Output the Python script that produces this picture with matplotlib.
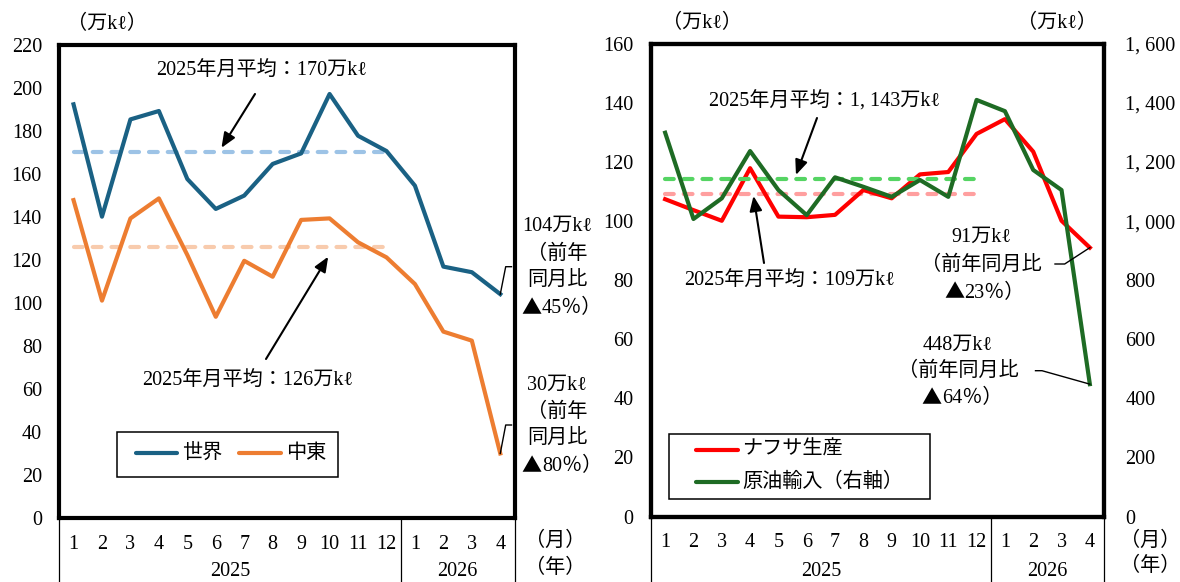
import numpy as np
import matplotlib
matplotlib.use("Agg")
import matplotlib.pyplot as plt
from matplotlib.lines import Line2D
from matplotlib.patches import Rectangle
from matplotlib.transforms import blended_transform_factory

plt.rcParams['font.family'] = ['Liberation Serif', 'Noto Sans CJK JP']
CJK = ['Noto Sans CJK JP', 'DejaVu Sans']

# ---- data ----
months = ['1', '2', '3', '4', '5', '6', '7', '8', '9', '10', '11', '12', '1', '2', '3', '4']
years = ['2025', '2026']
year_spans = [(0, 11), (12, 15)]

world = [192.2, 140.0, 185.2, 189.1, 157.5, 143.6, 149.8, 164.5, 169.4, 197.0,
         177.6, 170.5, 154.4, 116.8, 114.2, 104]
mideast = [147.7, 101.0, 139.2, 148.5, 122.2, 93.5, 119.5, 112.1, 138.5, 139.2,
           128.1, 121.1, 108.7, 86.6, 82.4, 30]
world_avg = 170
mideast_avg = 126
world_yoy = 45
mideast_yoy = 80

naphtha = [107.4, 103.7, 100.1, 117.9, 101.5, 101.3, 102.1, 110.5, 107.7, 115.8,
           116.6, 129.5, 134.5, 123.5, 100.1, 91]
crude = [1299, 1007, 1077, 1237, 1105, 1020, 1148, 1116, 1082, 1139,
         1082, 1410, 1372, 1173, 1105, 448]
naphtha_avg = 109
crude_avg = 1143
naphtha_yoy = 23
crude_yoy = 64

# ---- styling ----
BLUE = '#1A6184'
ORANGE = '#ED7D31'
LBLUE = '#9DC3E6'
LORANGE = '#F8CBAD'
RED = '#FF0000'
GREEN = '#1E6B24'
LGREEN = '#55D463'
LRED = '#FF9F9F'
FS = 14.5
SERIES_LW = 3.0
DASH = (0, (2.1, 2.4))

W, H, DPI = 1180, 582, 100
fig = plt.figure(figsize=(W / DPI, H / DPI), dpi=DPI)


def fx(x):
    return x / W


def fy(y):
    return 1 - y / H


def add_axes(x0, x1, top, bot):
    return fig.add_axes([fx(x0), fy(bot), (x1 - x0) / W, (bot - top) / H])


def ftext(x, y, s, **kw):
    kw.setdefault('fontsize', FS)
    kw.setdefault('ha', 'center')
    kw.setdefault('va', 'center')
    fig.text(fx(x), fy(y), s, **kw)


def to_fig(ax, x, y):
    disp = ax.transData.transform((x, y))
    return fig.transFigure.inverted().transform(disp)


def style_axes(ax):
    for sp in ax.spines.values():
        sp.set_linewidth(3)
        sp.set_color('black')
    ax.set_xlim(-0.5, len(months) - 0.5)
    ax.set_xticks(np.arange(len(months)), months)
    ax.tick_params(axis='x', length=0, pad=12, labelsize=FS)
    ax.tick_params(axis='y', length=0, labelsize=FS)


def bottom_axis(ax, year_y, unit_x, month_y, unit_year_y):
    trans = blended_transform_factory(ax.transData, fig.transFigure)
    bot = ax.get_position().y0
    for xb in (-0.5, 11.5, len(months) - 0.5):
        fig.add_artist(Line2D([xb, xb], [bot, 0], transform=trans,
                              color='black', lw=0.9))
    for label, (a, b) in zip(years, year_spans):
        fig.text((a + b) / 2, fy(year_y), label, transform=trans,
                 ha='center', va='center', fontsize=FS)
    ftext(unit_x, month_y, '（月）')
    ftext(unit_x, unit_year_y, '（年）')


def connector(ax, x, y, pts):
    p0 = to_fig(ax, x, y)
    xs = [p0[0]] + [fx(p[0]) for p in pts]
    ys = [p0[1]] + [fy(p[1]) for p in pts]
    fig.add_artist(Line2D(xs, ys, transform=fig.transFigure, color='black', lw=1.0))


def arrow(ax, tip, tail):
    ax.annotate('', xy=tip, xycoords='data',
                xytext=(fx(tail[0]), fy(tail[1])), textcoords='figure fraction',
                arrowprops=dict(arrowstyle='-|>,head_length=0.6,head_width=0.25',
                                color='black', lw=1.5, shrinkA=0, shrinkB=0,
                                mutation_scale=15))


def lines_text(x, y0, step, lines):
    for i, s in enumerate(lines):
        ftext(x, y0 + i * step, s)


def yoy_text(x_split, y, pct):
    # full-width triangle followed by the percentage
    ftext(x_split, y, '▲', ha='right', family=CJK)
    ftext(x_split, y, f'{pct}％）', ha='left')


x = np.arange(len(months))
x25 = x[:12]

# ---- left panel: crude oil imports, world vs. Middle East ----
ax1 = add_axes(59.3, 514.5, 44.5, 518)
style_axes(ax1)
ax1.set_ylim(0, 220)
ax1.set_yticks(np.arange(0, 221, 20))
ax1.tick_params(axis='y', pad=12.5)
ax1.plot(x25, [world_avg] * 12, color=LBLUE, lw=3, ls=DASH, dash_capstyle='round')
ax1.plot(x25, [mideast_avg] * 12, color=LORANGE, lw=3, ls=DASH, dash_capstyle='round')
ax1.plot(x, world, color=BLUE, lw=SERIES_LW)
ax1.plot(x, mideast, color=ORANGE, lw=SERIES_LW)

ftext(107, 24, '（万kℓ）')
ftext(261.5, 71, f'2025年月平均：{world_avg}万kℓ')
arrow(ax1, (5.2, 172), (255, 94))
ftext(248, 381.7, f'2025年月平均：{mideast_avg}万kℓ')
arrow(ax1, (8.95, 121.4), (266, 359))

lines_text(557, 226.7, 27.2, [f'{world[-1]:.0f}万kℓ', '（前年', '同月比'])
yoy_text(542, 308.3, world_yoy)
connector(ax1, 15, world[-1], [(505.7, 266.7), (511.5, 266.7)])
lines_text(557, 385, 27.2, [f'{mideast[-1]:.0f}万kℓ', '（前年', '同月比'])
yoy_text(542, 466.7, mideast_yoy)
connector(ax1, 15, mideast[-1], [(505.7, 425), (511.5, 425)])

# legend
fig.add_artist(Rectangle((fx(117), fy(476.7)), (338 - 117) / W, (476.7 - 431.7) / H,
                         transform=fig.transFigure, fill=False, ec='black', lw=1.1))
for (x0, x1, tx, col, lab) in [(135.5, 177.5, 202, BLUE, '世界'),
                                (238.5, 281.3, 306, ORANGE, '中東')]:
    fig.add_artist(Line2D([fx(x0), fx(x1)], [fy(453.3)] * 2, transform=fig.transFigure,
                          color=col, lw=SERIES_LW, solid_capstyle='round'))
    ftext(tx, 453.3, lab)

bottom_axis(ax1, 571, 555, 541.7, 568)

# ---- right panel: naphtha production vs. crude imports ----
ax2 = add_axes(651, 1104, 43.8, 516.5)
style_axes(ax2)
ax2.set_ylim(0, 160)
ax2.set_yticks(np.arange(0, 161, 20))
ax2.tick_params(axis='y', pad=12.6)
ax2r = ax2.twinx()
for sp in ax2r.spines.values():
    sp.set_linewidth(3)
ax2r.set_ylim(0, 1600)
rt = np.arange(0, 1601, 200)
ax2r.set_yticks(rt, [f'{v:,}'.replace(',', ', ') for v in rt])
ax2r.tick_params(axis='y', length=0, pad=15.3, labelsize=FS)

ax2.plot(x25, [naphtha_avg] * 12, color=LRED, lw=3, ls=DASH, dash_capstyle='round')
ax2r.plot(x25, [crude_avg] * 12, color=LGREEN, lw=3, ls=DASH, dash_capstyle='round', zorder=1)
ax2.plot(x, naphtha, color=RED, lw=SERIES_LW)
ax2r.plot(x, crude, color=GREEN, lw=SERIES_LW, zorder=3)

ftext(701.6, 23, '（万kℓ）')
ftext(1057, 23, '（万kℓ）')
ftext(824.5, 101.7, f'2025年月平均：{crude_avg:,}万kℓ'.replace(',', ', '))
arrow(ax2r, (4.62, 1156), (817, 118))
ftext(789.5, 281, f'2025年月平均：{naphtha_avg}万kℓ')
arrow(ax2, (3.12, 108.5), (764, 263))

lines_text(981, 237.5, 27.8, [f'{naphtha[-1]:.0f}万kℓ', '（前年同月比'])
yoy_text(964.4, 293, naphtha_yoy)
connector(ax2, 15, naphtha[-1], [(1064.7, 264), (1055, 264)])
lines_text(958, 345, 26.6, [f'{crude[-1]:.0f}万kℓ', '（前年同月比'])
yoy_text(941.7, 398.3, crude_yoy)
connector(ax2r, 15, crude[-1], [(1042, 370.7), (1035.5, 370.7)])

# legend
fig.add_artist(Rectangle((fx(669.4), fy(499)), (930.4 - 669.4) / W, (499 - 434) / H,
                         transform=fig.transFigure, fill=False, ec='black', lw=1.1))
for (yy, col, lab) in [(450, RED, 'ナフサ生産'), (482.3, GREEN, '原油輸入（右軸）')]:
    fig.add_artist(Line2D([fx(695.9), fx(738.3)], [fy(yy)] * 2, transform=fig.transFigure,
                          color=col, lw=SERIES_LW, solid_capstyle='round'))
    ftext(742, yy, lab, ha='left')

bottom_axis(ax2, 571, 1149.7, 541.7, 566.7)

fig.savefig('out.png', dpi=DPI)
